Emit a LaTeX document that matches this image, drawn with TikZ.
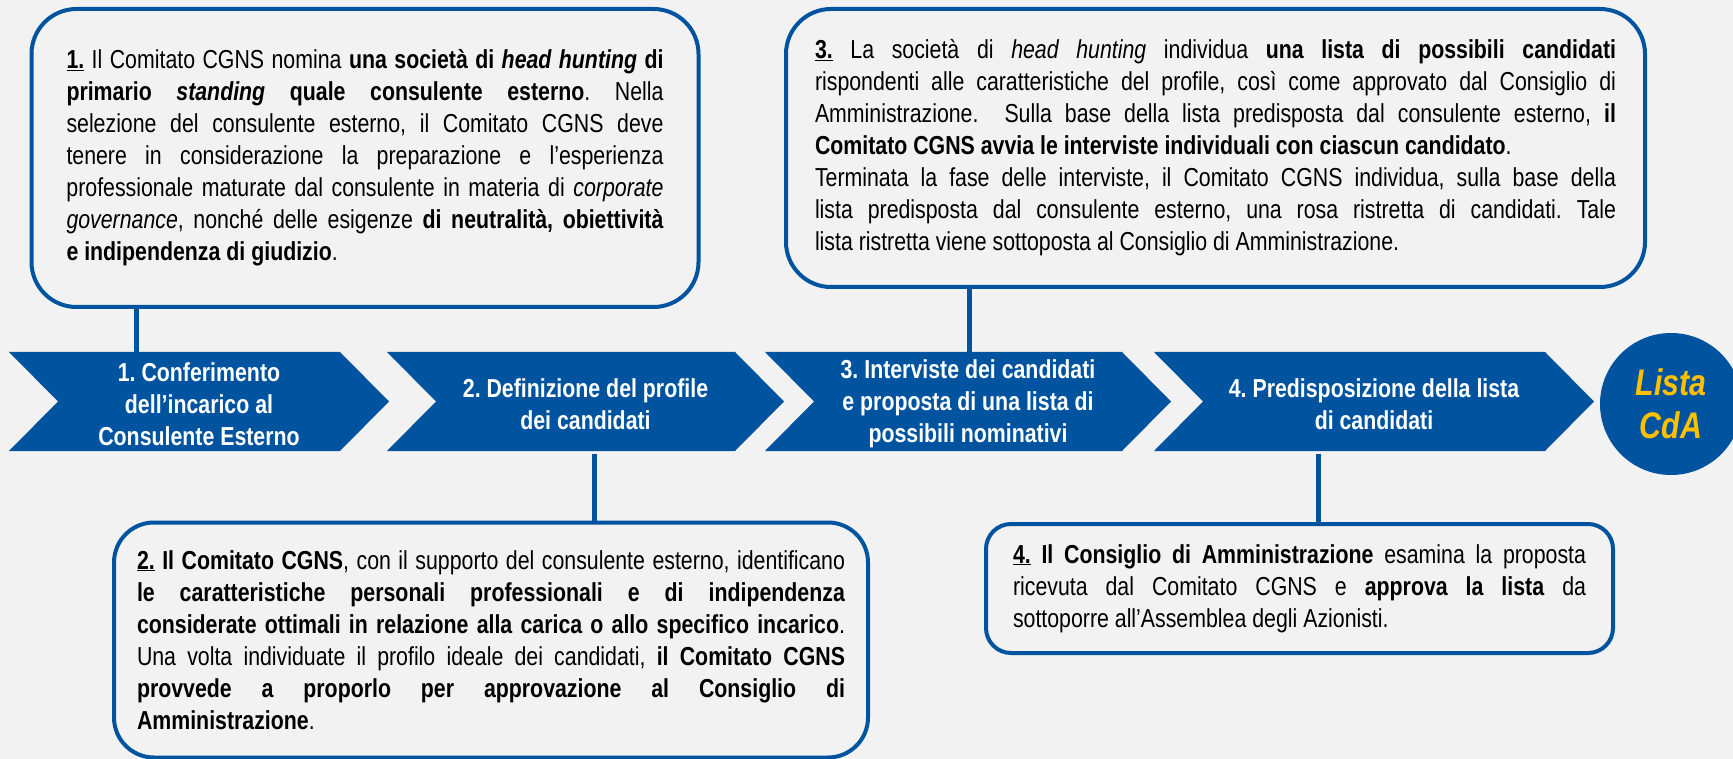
\documentclass[tikz,border=0pt]{standalone}
\usepackage{fontspec}
\setmainfont{Liberation Sans}[FakeStretch=0.82]
\usetikzlibrary{calc}
\frenchspacing

\definecolor{cdablue}{RGB}{0,84,159}
\definecolor{bggray}{RGB}{242,242,242}
\definecolor{cdagold}{RGB}{255,192,0}

% one blue chevron of the process bar: name, left x, right top x, text
\newcommand{\chevstep}[4]{%
    \fill[cdablue] (#2,352) -- (#3,352) -- (#3+49,401.5) -- (#3,451) -- (#2,451) -- (#2+49,401.5) -- cycle;
    \node[steptext] (#1) at ({(#2+#3+49)/2},404) {#4};
}

\begin{document}
\begin{tikzpicture}[x=1pt, y=-1pt]
    % Define styles
    \tikzset{
        note/.style={draw=cdablue, line width=4pt, fill=bggray, rounded corners=45pt, inner sep=0pt, align=justify, font=\fontsize{26}{32}\selectfont},
        steptext/.style={text=white, inner sep=0pt, minimum height=99pt, align=center, font=\bfseries\fontsize{26}{32}\selectfont},
        link/.style={cdablue, line width=5pt}
    }

    % Canvas
    \fill[bggray] (0,0) rectangle (1733,759);
    \useasboundingbox (0,0) rectangle (1733,759);
    \clip (0,0) rectangle (1733,759);

    % Process bar
    \chevstep{step1}{9}{340}{1. Conferimento\\dell’incarico al\\Consulente Esterno}
    \chevstep{step2}{387}{735}{2. Definizione del profile\\dei candidati}
    \chevstep{step3}{765}{1122}{3. Interviste dei candidati\\e proposta di una lista di\\possibili nominativi}
    \chevstep{step4}{1154}{1545}{4. Predisposizione della lista\\di candidati}

    % Final result
    \node[circle, fill=cdablue, minimum size=142pt, inner sep=0pt, text=cdagold, align=center,
          font=\bfseries\itshape\fontsize{37}{43}\selectfont] (lista) at (1671,404) {Lista\\CdA};

    % Description of step 1
    \node[note, text width=597pt, minimum width=667pt, minimum height=298pt] (note1) at (365,158) {%
        \underline{\textbf{1.}} Il Comitato CGNS nomina \textbf{una società di \textit{head hunting} di}\linebreak
        \textbf{primario \textit{standing} quale consulente esterno}. Nella\linebreak
        selezione del consulente esterno, il Comitato CGNS deve\linebreak
        tenere in considerazione la preparazione e l’esperienza\linebreak
        professionale maturate dal consulente in materia di \textit{corporate}\linebreak
        \textit{governance}, nonché delle esigenze \textbf{di neutralità, obiettività}\linebreak
        \textbf{e indipendenza di giudizio}.};

    % Description of step 3
    \node[note, text width=801pt, minimum width=859pt, minimum height=278pt] (note3) at (1215.5,148) {%
        \underline{\textbf{3.}} La società di \textit{head hunting} individua \textbf{una lista di possibili candidati}\linebreak
        rispondenti alle caratteristiche del profile, così come approvato dal Consiglio di\linebreak
        Amministrazione.~ Sulla base della lista predisposta dal consulente esterno, \textbf{il}\linebreak
        \textbf{Comitato CGNS avvia le interviste individuali con ciascun candidato}.\\
        Terminata la fase delle interviste, il Comitato CGNS individua, sulla base della\linebreak
        lista predisposta dal consulente esterno, una rosa ristretta di candidati. Tale\linebreak
        lista ristretta viene sottoposta al Consiglio di Amministrazione.};

    % Description of step 2
    \node[note, rounded corners=40pt, text width=708pt, minimum width=754pt, minimum height=235pt] (note2) at (491,640) {%
        \underline{\textbf{2.}} \textbf{Il Comitato CGNS}, con il supporto del consulente esterno, identificano\linebreak
        \textbf{le caratteristiche personali professionali e di indipendenza}\linebreak
        \textbf{considerate ottimali in relazione alla carica o allo specifico incarico}.\linebreak
        Una volta individuate il profilo ideale dei candidati, \textbf{il Comitato CGNS}\linebreak
        \textbf{provvede a proporlo per approvazione al Consiglio di}\linebreak
        \textbf{Amministrazione}.};

    % Description of step 4
    \node[note, rounded corners=25pt, text width=573pt, minimum width=627pt, minimum height=129pt] (note4) at (1299.5,588.5) {%
        \underline{\textbf{4.}} \textbf{Il Consiglio di Amministrazione} esamina la proposta\linebreak
        ricevuta dal Comitato CGNS e \textbf{approva la lista} da\linebreak
        sottoporre all’Assemblea degli Azionisti.};

    % Connectors
    \coordinate (k1) at (136,0);
    \coordinate (k2) at (594,0);
    \coordinate (k3) at (969,0);
    \coordinate (k4) at (1318,0);
    \draw[link] (note1.south -| k1) -- (step1.north -| k1);
    \draw[link] (note3.south -| k3) -- (step3.north -| k3);
    \draw[link] (step2.south -| k2) -- (note2.north -| k2);
    \draw[link] (step4.south -| k4) -- (note4.north -| k4);
\end{tikzpicture}
\end{document}
